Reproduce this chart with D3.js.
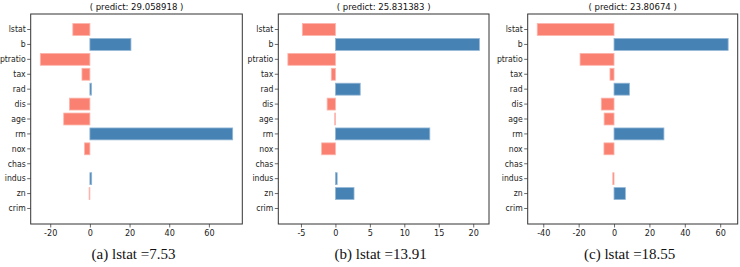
<!DOCTYPE html>
<html>
<head>
<meta charset="utf-8">
<script src="https://cdn.jsdelivr.net/npm/d3@7"></script>
<style>
  body { margin: 0; background: #fff; }
  svg { display: block; }
</style>
</head>
<body>
<div id="chart"></div>
<script>
// feature names, top of the chart first
var features = ["lstat", "b", "ptratio", "tax", "rad", "dis", "age", "rm", "nox", "chas", "indus", "zn", "crim"];

// contribution of each feature, same order as features
var weightsA = [-8.6, 20.7, -25.0, -4.0, 0.8, -10.3, -13.2, 72.0, -2.7, 0, 0.9, -0.4, 0];
var weightsB = [-4.8, 20.9, -6.9, -0.6, 3.6, -1.2, -0.1, 13.7, -2.0, 0, 0.25, 2.7, 0];
var weightsC = [-43.4, 64.5, -19.2, -2.3, 8.7, -7.2, -5.6, 28.2, -5.7, 0, -0.7, 6.4, 0];

var predictions = ["29.058918", "25.831383", "23.80674"];
var captionTags = ["(a)", "(b)", "(c)"];
var lstatValues = ["7.53", "13.91", "18.55"];

var W = 740, H = 267;
var top_ = 14, bottom_ = 224;
var frames = [[30.7, 242.3], [278.3, 489], [527.7, 737.7]]; // left/right of each plot box

var svg = d3.select('#chart').append('svg')
  .attr('width', W)
  .attr('height', H);

var labelFont = "'DejaVu Sans Condensed', 'DejaVu Sans', sans-serif";

[weightsA, weightsB, weightsC].forEach(function(weights, i) {
  var x0 = frames[i][0], x1 = frames[i][1];

  // matplotlib style: 5% margin round the data range
  var lo = Math.min(0, d3.min(weights)), hi = Math.max(0, d3.max(weights));
  var pad = (hi - lo) * 0.05;
  var xScale = d3.scaleLinear().domain([lo - pad, hi + pad]).range([x0, x1]);

  var yScale = d3.scaleBand()
    .domain(features)
    .range([top_, bottom_])
    .paddingInner(0.2)
    .paddingOuter(0.64);

  var g = svg.append('g');

  g.selectAll('rect.bar').data(weights)
    .enter().append('rect')
    .attr('class', 'bar')
    .attr('x', function(d) { return xScale(Math.min(0, d)); })
    .attr('y', function(d, j) { return yScale(features[j]); })
    .attr('width', function(d) { return Math.abs(xScale(d) - xScale(0)); })
    .attr('height', yScale.bandwidth())
    .attr('fill', function(d) { return d < 0 ? '#fa8072' : '#4682b4'; })
    .attr('stroke', function(d) { return d < 0 ? '#fcb5ac' : '#93b7d6'; })
    .attr('stroke-width', function(d) { return d === 0 ? 0 : 0.8; });

  // axes
  var xAxis = d3.axisBottom(xScale).ticks(5).tickSize(3.5).tickPadding(2.5)
    .tickFormat(function(d) { return String(d); });
  var yAxis = d3.axisLeft(yScale).tickSize(3.5).tickPadding(1.5);

  var gx = g.append('g').attr('transform', 'translate(0,' + bottom_ + ')').call(xAxis);
  var gy = g.append('g').attr('transform', 'translate(' + x0 + ',0)').call(yAxis);

  [gx, gy].forEach(function(a) {
    a.select('.domain').remove();
    a.selectAll('line').attr('stroke', '#444').attr('stroke-width', 0.8);
    a.selectAll('text')
      .attr('fill', '#222')
      .style('font-family', labelFont)
      .style('font-size', '9px');
  });
  gy.selectAll('text').style('font-size', '8.6px');

  // plot box
  g.append('rect')
    .attr('x', x0).attr('y', top_)
    .attr('width', x1 - x0).attr('height', bottom_ - top_)
    .attr('fill', 'none')
    .attr('stroke', '#333')
    .attr('stroke-width', 1);

  g.append('text')
    .attr('x', (x0 + x1) / 2)
    .attr('y', 10)
    .attr('text-anchor', 'middle')
    .style('font-family', labelFont)
    .style('font-size', '9.5px')
    .attr('fill', '#111')
    .text('( predict: ' + predictions[i] + ' )');

  g.append('text')
    .attr('x', (x0 + x1) / 2 - 3)
    .attr('y', 259)
    .attr('text-anchor', 'middle')
    .style('font-family', "'Liberation Serif', 'Times New Roman', serif")
    .style('font-size', '15px')
    .attr('fill', '#111')
    .text(captionTags[i] + ' lstat =' + lstatValues[i]);
});
</script>
</body>
</html>
